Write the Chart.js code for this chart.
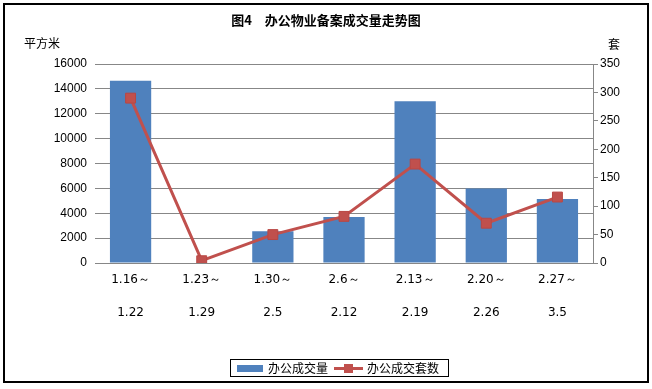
<!DOCTYPE html>
<html>
<head>
<meta charset="utf-8">
<script src="https://cdn.jsdelivr.net/npm/chart.js@4.4.1/dist/chart.umd.min.js"></script>
<style>
  html, body { margin: 0; padding: 0; background: #fff; }
</style>
</head>
<body>
<canvas id="chart" width="652" height="389"></canvas>
<script>
const chartTitle = '图4　办公物业备案成交量走势图';
const leftUnit = '平方米';
const rightUnit = '套';

const periods = [
  ['1.16～', '1.22'],
  ['1.23～', '1.29'],
  ['1.30～', '2.5'],
  ['2.6～', '2.12'],
  ['2.13～', '2.19'],
  ['2.20～', '2.26'],
  ['2.27～', '3.5']
];
const areaName = '办公成交量';
const areaValues = [14650, 0, 2550, 3700, 13000, 6000, 5150];
const unitName = '办公成交套数';
const unitValues = [290, 4, 50, 82, 174, 70, 116];

const areaMax = 16000, areaStep = 2000;
const unitMax = 350, unitStep = 50;

const blue = '#4F81BD';
const red = '#C0504D';
const gridGray = '#878787';

// title, unit captions, frame and legend box
const decorations = {
  id: 'decorations',
  afterDraw(chart) {
    const ctx = chart.ctx;
    ctx.save();
    ctx.strokeStyle = '#000';
    ctx.lineWidth = 2;
    ctx.strokeRect(4, 4, 644, 378);

    ctx.fillStyle = '#000';
    ctx.textBaseline = 'middle';
    ctx.textAlign = 'center';
    ctx.font = 'bold 13px "Noto Sans CJK SC"';
    ctx.fillText(chartTitle, 326, 20);
    ctx.font = '12px "Noto Sans CJK SC"';
    ctx.fillText(leftUnit, 42, 43);
    ctx.fillText(rightUnit, 614, 44);

    // legend
    ctx.lineWidth = 1;
    ctx.strokeRect(230.5, 359.5, 218, 17);
    ctx.fillStyle = blue;
    ctx.fillRect(237, 365, 26, 7);
    ctx.strokeStyle = red;
    ctx.lineWidth = 3;
    ctx.beginPath();
    ctx.moveTo(334, 368.5);
    ctx.lineTo(363, 368.5);
    ctx.stroke();
    ctx.fillStyle = red;
    ctx.fillRect(344, 364, 9, 9);
    ctx.fillStyle = '#000';
    ctx.textAlign = 'left';
    ctx.font = '12px "Noto Sans CJK SC"';
    ctx.fillText(areaName, 268, 368);
    ctx.fillText(unitName, 367, 368);
    ctx.restore();
  }
};

const plainNumber = (value) => String(value);

const data = {
  labels: periods,
  datasets: [{
    type: 'line',
    label: unitName,
    data: unitValues,
    yAxisID: 'y1',
    borderColor: red,
    borderWidth: 3,
    pointStyle: 'rect',
    pointRadius: 7,
    pointBackgroundColor: red,
    pointBorderColor: '#B94744',
    pointBorderWidth: 1,
    order: 0
  }, {
    type: 'bar',
    label: areaName,
    data: areaValues,
    yAxisID: 'y',
    backgroundColor: blue,
    categoryPercentage: 1,
    barPercentage: 0.58,
    order: 1
  }]
};

const config = {
  type: 'bar',
  data: data,
  plugins: [decorations],
  options: {
    responsive: false,
    animation: false,
    events: [],
    layout: { padding: { top: 64, left: 0, right: 0, bottom: 0 } },
    plugins: {
      legend: { display: false },
      title: { display: false },
      tooltip: { enabled: false }
    },
    scales: {
      x: {
        grid: { display: false, drawTicks: false },
        border: { display: true, color: gridGray, width: 1 },
        ticks: {
          padding: 0,
          maxRotation: 0,
          autoSkip: false,
          color: '#000',
          font: { family: '"DejaVu Sans"', size: 12, lineHeight: 2.75 }
        },
        afterFit(scale) { scale.height = 126; }
      },
      y: {
        position: 'left',
        min: 0,
        max: areaMax,
        grid: { color: gridGray, lineWidth: 1, drawTicks: false },
        border: { display: false },
        ticks: {
          stepSize: areaStep,
          padding: 8,
          color: '#000',
          callback: plainNumber,
          font: { family: '"Liberation Sans"', size: 12 }
        },
        afterFit(scale) { scale.width = 95; }
      },
      y1: {
        position: 'right',
        min: 0,
        max: unitMax,
        grid: { drawOnChartArea: false, drawTicks: true, tickLength: 5, color: gridGray },
        border: { display: true, color: gridGray, width: 1 },
        ticks: {
          stepSize: unitStep,
          padding: 2,
          color: '#000',
          callback: plainNumber,
          font: { family: '"Liberation Sans"', size: 12 }
        },
        afterFit(scale) { scale.width = 59; }
      }
    }
  }
};

const comboChart = new Chart(document.getElementById('chart'), config);
</script>
</body>
</html>
